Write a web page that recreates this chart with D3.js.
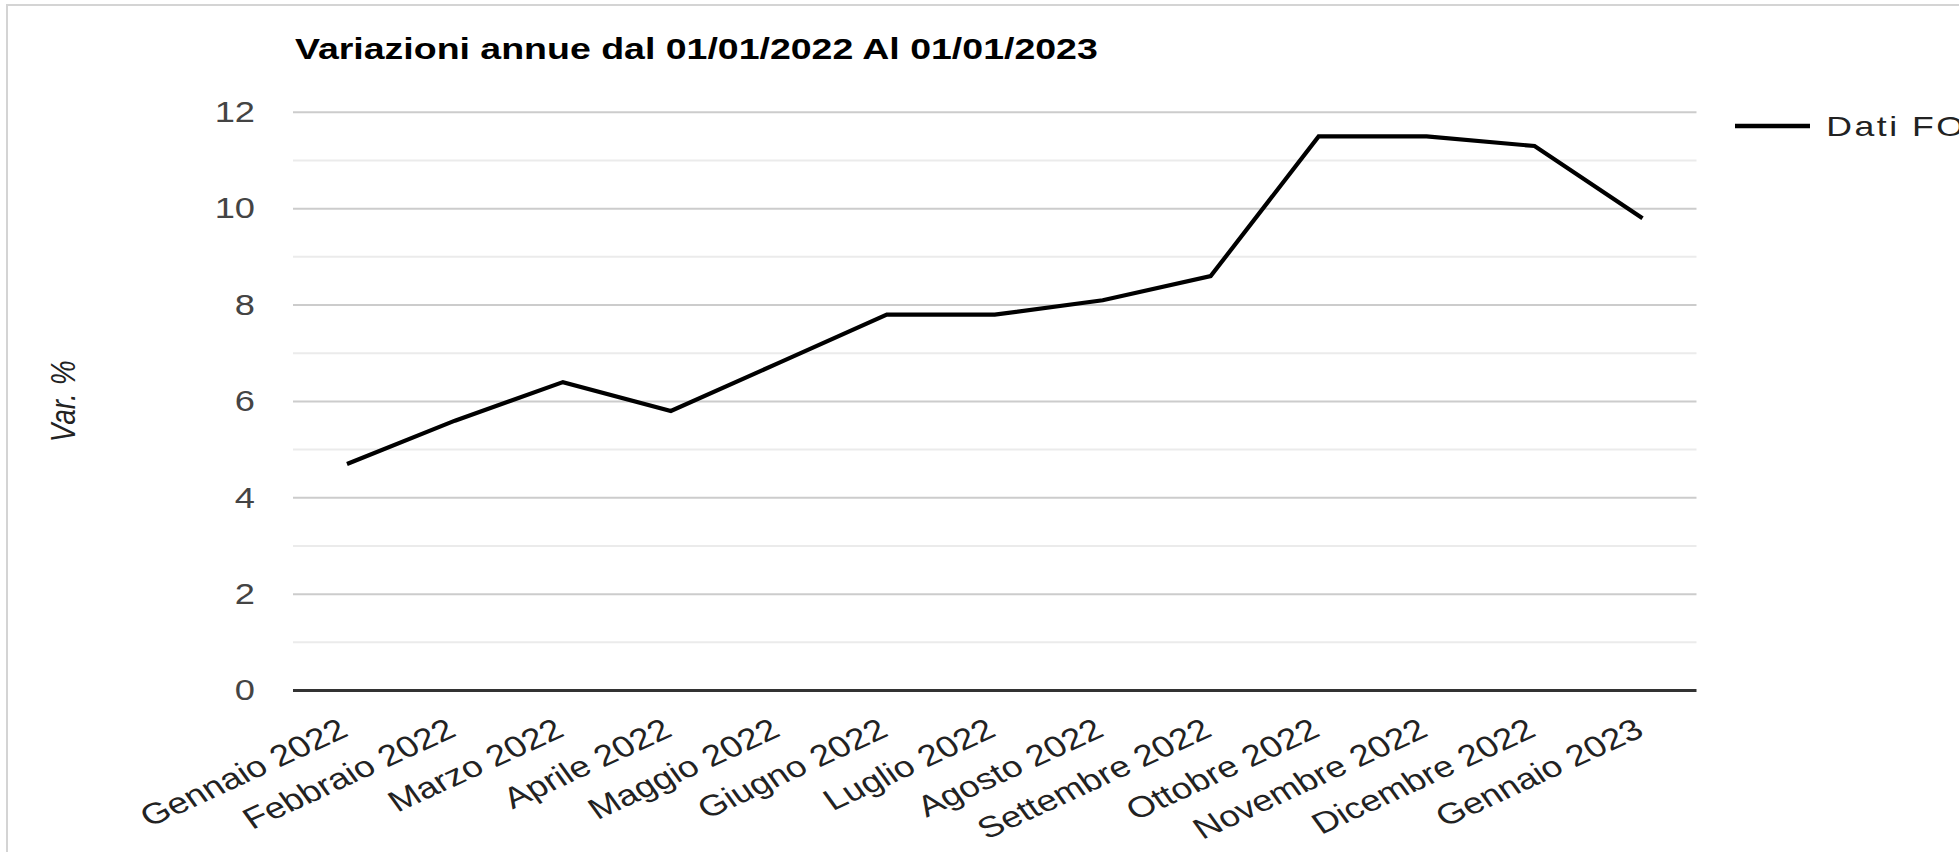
<!DOCTYPE html>
<html><head><meta charset="utf-8">
<script src="https://cdn.jsdelivr.net/npm/d3@7/dist/d3.min.js"></script>
<style>html,body{margin:0;padding:0;background:#fff;overflow:hidden}svg{display:block}</style>
</head><body>
<script>
const categories = ["Gennaio 2022","Febbraio 2022","Marzo 2022","Aprile 2022","Maggio 2022","Giugno 2022","Luglio 2022","Agosto 2022","Settembre 2022","Ottobre 2022","Novembre 2022","Dicembre 2022","Gennaio 2023"];
const values = [4.7,5.6,6.4,5.8,6.8,7.8,7.8,8.1,8.6,11.5,11.5,11.3,9.8];
const yTicks = [0,2,4,6,8,10,12];
const yMinorTicks = [1,3,5,7,9,11];
const seriesName = "Dati FOI";
const chartTitle = "Variazioni annue dal 01/01/2022 Al 01/01/2023";
const yTitle = "Var. %";

(function () {
const W = 1959, H = 852, SX = 1.25, VW = W / SX;
const FONT = "'Liberation Sans', Arial, sans-serif";

const svg = d3.select("body").append("svg")
  .attr("width", W).attr("height", H)
  .attr("viewBox", `0 0 ${VW} ${H}`)
  .attr("preserveAspectRatio", "none")
  .style("font-family", FONT);

// frame
svg.append("rect").attr("x", 5.6).attr("y", 5).attr("width", VW + 20).attr("height", H + 20)
  .attr("fill", "#fff").attr("stroke", "#d4d4d4").attr("stroke-width", 2)
  .attr("vector-effect", "non-scaling-stroke");

const pLeft = 234.4, pRight = 1357.2, pTop = 112.3, pBottom = 690.5;
const x = d3.scalePoint().domain(categories).range([pLeft, pRight]).padding(0.5);
const y = d3.scaleLinear().domain([0, 12]).range([pBottom, pTop]);

// minor grid
svg.append("g").selectAll("line").data(yMinorTicks).join("line")
  .attr("x1", pLeft).attr("x2", pRight).attr("y1", d => y(d)).attr("y2", d => y(d))
  .attr("stroke", "#ebebeb").attr("stroke-width", 2).attr("vector-effect", "non-scaling-stroke");
// major grid
svg.append("g").selectAll("line").data(yTicks.filter(d => d !== 0)).join("line")
  .attr("x1", pLeft).attr("x2", pRight).attr("y1", d => y(d)).attr("y2", d => y(d))
  .attr("stroke", "#cccccc").attr("stroke-width", 2).attr("vector-effect", "non-scaling-stroke");

// y axis labels
const yAxis = svg.append("g").attr("transform", "translate(204,0)")
  .call(d3.axisLeft(y).tickValues(yTicks).tickSize(0).tickPadding(0).tickFormat(d3.format("d")));
yAxis.select(".domain").remove();
yAxis.selectAll("text").attr("font-size", 29).attr("font-family", FONT).attr("fill", "#444");

// x axis labels
const xAxis = svg.append("g").attr("transform", `translate(0,${pBottom})`)
  .call(d3.axisBottom(x).tickSize(0).tickPadding(0));
xAxis.select(".domain").remove();
xAxis.selectAll("text")
  .attr("font-size", 29.5).attr("font-family", FONT).attr("fill", "#222")
  .attr("text-anchor", "end").attr("x", 2).attr("y", 44.5).attr("dy", 0)
  .attr("transform", "rotate(-30,2,44.5)");

// baseline
svg.append("line").attr("x1", pLeft).attr("x2", pRight).attr("y1", y(0)).attr("y2", y(0))
  .attr("stroke", "#333").attr("stroke-width", 3).attr("vector-effect", "non-scaling-stroke");

// series line
svg.append("path").datum(values)
  .attr("fill", "none").attr("stroke", "#000").attr("stroke-width", 4.2)
  .attr("stroke-linejoin", "miter").attr("vector-effect", "non-scaling-stroke")
  .attr("d", d3.line().x((d, i) => x(categories[i])).y(d => y(d)));

// title
svg.append("text").attr("x", 236).attr("y", 59).text(chartTitle)
  .attr("font-size", 30).attr("font-weight", "bold").attr("fill", "#000");

// y axis title
svg.append("text").attr("transform", `translate(60,${(pTop + pBottom) / 2}) rotate(-90)`)
  .attr("text-anchor", "middle").attr("font-size", 28).attr("font-style", "italic")
  .attr("fill", "#222").text(yTitle);

// legend
const lg = svg.append("g");
lg.append("line").attr("x1", 1388).attr("x2", 1448).attr("y1", 126).attr("y2", 126)
  .attr("stroke", "#000").attr("stroke-width", 4.5).attr("vector-effect", "non-scaling-stroke");
lg.append("text").attr("x", 1461).attr("y", 136).attr("font-size", 28.5)
  .attr("letter-spacing", 2).attr("fill", "#222").text(seriesName);
})();
</script>
</body></html>
